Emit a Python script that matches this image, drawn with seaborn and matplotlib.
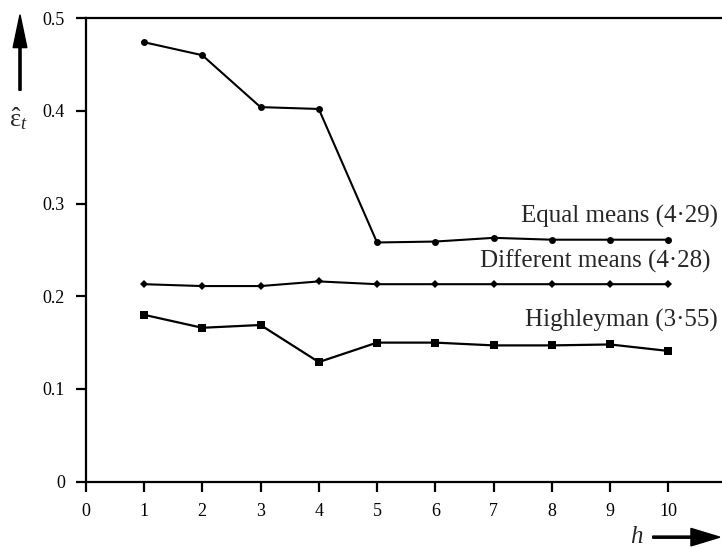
import matplotlib
matplotlib.use("Agg")
import matplotlib.pyplot as plt
import seaborn as sns
import pandas as pd

h = [1, 2, 3, 4, 5, 6, 7, 8, 9, 10]
equal_means = [0.474, 0.460, 0.404, 0.402, 0.258, 0.259, 0.263, 0.261, 0.261, 0.261]
different_means = [0.213, 0.211, 0.211, 0.216, 0.213, 0.213, 0.213, 0.213, 0.213, 0.213]
highleyman = [0.180, 0.166, 0.169, 0.129, 0.150, 0.150, 0.147, 0.147, 0.148, 0.141]
series_labels = ["Equal means (4·29)", "Different means (4·28)", "Highleyman (3·55)"]
x_ticks = [0, 1, 2, 3, 4, 5, 6, 7, 8, 9, 10]
y_ticks = [0, 0.1, 0.2, 0.3, 0.4, 0.5]
y_tick_labels = ["0", "0.1", "0.2", "0.3", "0.4", "0.5"]

sns.set_style("ticks")
plt.rcParams["font.family"] = ["Liberation Serif", "DejaVu Serif"]
plt.rcParams["mathtext.fontset"] = "custom"
plt.rcParams["mathtext.rm"] = "Liberation Serif"
plt.rcParams["mathtext.it"] = "Liberation Serif:italic"
plt.rcParams["mathtext.bf"] = "Liberation Serif:bold"

fig = plt.figure(figsize=(7.22, 5.47), dpi=100)
ax = fig.add_axes([0.1187, 0.1194, 0.8813, 0.8475])

df = pd.DataFrame({"h": h, "eq": equal_means, "diff": different_means, "hi": highleyman})
sns.lineplot(data=df, x="h", y="eq", ax=ax, color="black", lw=1.5,
             marker="o", markersize=5, markeredgewidth=0)
sns.lineplot(data=df, x="h", y="diff", ax=ax, color="black", lw=1.5,
             marker="D", markersize=4.5, markeredgewidth=0)
sns.lineplot(data=df, x="h", y="hi", ax=ax, color="black", lw=1.6,
             marker="s", markersize=5.5, markeredgewidth=0)

ax.set_xlim(0, 10.92)
ax.set_ylim(0, 0.5)
ax.set_xticks(x_ticks)
ax.set_xticklabels([str(t) for t in x_ticks])
ax.set_yticks(y_ticks)
ax.set_yticklabels(y_tick_labels)
ax.set_xlabel("")
ax.set_ylabel("")
ax.tick_params(axis="both", direction="out", length=7, width=1.6,
               labelsize=13, colors="black")
ax.tick_params(axis="y", pad=8)
ax.tick_params(axis="x", pad=8)

for side in ["left", "bottom", "top"]:
    ax.spines[side].set_linewidth(1.6)
    ax.spines[side].set_color("black")
ax.spines["right"].set_visible(False)

ax.text(10.85, 0.279, series_labels[0], ha="right", va="baseline", fontsize=18)
ax.text(10.73, 0.231, series_labels[1], ha="right", va="baseline", fontsize=18)
ax.text(10.85, 0.167, series_labels[2], ha="right", va="baseline", fontsize=18)

# y-axis label (upright epsilon with hat, italic subscript t) with arrow
fig.text(0.025, 0.7697, r"$\hat{\mathrm{ε}}_{t}$", ha="center", va="baseline", fontsize=19)
fig.patches.append(matplotlib.patches.FancyArrow(
    0.0277, 0.835, 0, 0.138, width=0.003, head_width=0.019, head_length=0.06,
    length_includes_head=True, color="black", transform=fig.transFigure, figure=fig))

# x-axis label with arrow
fig.text(0.882, 0.018, "h", style="italic", ha="center", va="center", fontsize=18)
fig.patches.append(matplotlib.patches.FancyArrow(
    0.904, 0.018, 0.093, 0, width=0.004, head_width=0.032, head_length=0.04,
    length_includes_head=True, color="black", transform=fig.transFigure, figure=fig))

fig.savefig("out.png", dpi=100)
